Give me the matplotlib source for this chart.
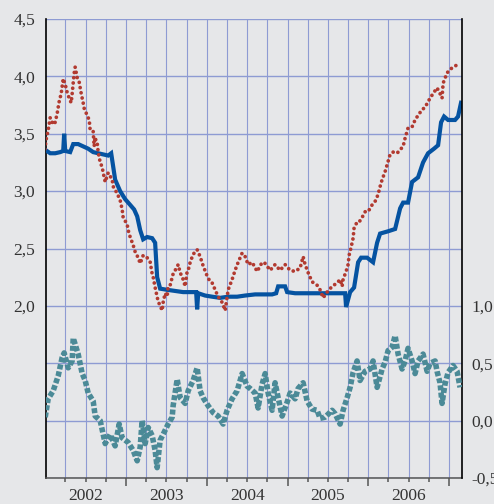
import numpy as np
import matplotlib.pyplot as plt
from matplotlib.ticker import FixedLocator

plt.rcParams['font.family'] = ['Liberation Serif', 'DejaVu Serif']

# short rate (solid blue, left axis)
blue_t = [2002.000, 2002.062, 2002.124, 2002.186, 2002.223, 2002.235, 2002.248, 2002.309,
          2002.347, 2002.408, 2002.470, 2002.532, 2002.594, 2002.656, 2002.718, 2002.780,
          2002.817, 2002.866, 2002.928, 2002.990, 2003.052, 2003.101, 2003.139, 2003.176,
          2003.213, 2003.262, 2003.324, 2003.361, 2003.386, 2003.423, 2003.510, 2003.609,
          2003.708, 2003.795, 2003.869, 2003.881, 2003.894, 2003.980, 2004.067, 2004.166,
          2004.265, 2004.376, 2004.475, 2004.599, 2004.723, 2004.809, 2004.859, 2004.884,
          2004.970, 2004.995, 2005.094, 2005.218, 2005.342, 2005.465, 2005.589, 2005.713,
          2005.725, 2005.775, 2005.824, 2005.874, 2005.911, 2005.985, 2006.059, 2006.109,
          2006.146, 2006.245, 2006.332, 2006.394, 2006.431, 2006.492, 2006.542, 2006.616,
          2006.678, 2006.740, 2006.814, 2006.864, 2006.901, 2006.938, 2006.988, 2007.074,
          2007.111, 2007.148]
blue_v = [3.36, 3.33, 3.33, 3.34, 3.35, 3.50, 3.35, 3.34,
          3.41, 3.41, 3.39, 3.37, 3.34, 3.33, 3.32, 3.31,
          3.33, 3.10, 3.00, 2.93, 2.88, 2.84, 2.78, 2.66,
          2.58, 2.60, 2.59, 2.55, 2.25, 2.15, 2.14, 2.13,
          2.12, 2.12, 2.12, 1.97, 2.11, 2.09, 2.08, 2.07,
          2.08, 2.08, 2.09, 2.10, 2.10, 2.10, 2.11, 2.17,
          2.17, 2.12, 2.11, 2.11, 2.11, 2.11, 2.11, 2.11,
          1.99, 2.12, 2.16, 2.38, 2.42, 2.42, 2.38, 2.55,
          2.63, 2.65, 2.67, 2.85, 2.90, 2.90, 3.08, 3.12,
          3.25, 3.33, 3.37, 3.40, 3.60, 3.65, 3.62, 3.62,
          3.65, 3.77]

# longer rate (red dots, left axis)
red_t = [2001.988, 2002.012, 2002.037, 2002.062, 2002.099, 2002.124, 2002.149, 2002.173,
         2002.198, 2002.223, 2002.248, 2002.272, 2002.297, 2002.322, 2002.334, 2002.359,
         2002.371, 2002.396, 2002.421, 2002.446, 2002.470, 2002.483, 2002.520, 2002.545,
         2002.557, 2002.594, 2002.606, 2002.619, 2002.631, 2002.644, 2002.656, 2002.681,
         2002.705, 2002.718, 2002.743, 2002.780, 2002.829, 2002.842, 2002.891, 2002.928,
         2002.953, 2002.965, 2003.015, 2003.027, 2003.052, 2003.089, 2003.114, 2003.151,
         2003.176, 2003.213, 2003.262, 2003.300, 2003.324, 2003.337, 2003.361, 2003.398,
         2003.448, 2003.460, 2003.485, 2003.510, 2003.522, 2003.547, 2003.572, 2003.584,
         2003.634, 2003.646, 2003.671, 2003.696, 2003.708, 2003.733, 2003.757, 2003.770,
         2003.795, 2003.832, 2003.881, 2003.918, 2003.955, 2004.005, 2004.042, 2004.067,
         2004.104, 2004.141, 2004.191, 2004.228, 2004.265, 2004.314, 2004.351, 2004.389,
         2004.438, 2004.475, 2004.512, 2004.562, 2004.624, 2004.686, 2004.723, 2004.785,
         2004.846, 2004.908, 2004.970, 2005.032, 2005.094, 2005.156, 2005.193, 2005.218,
         2005.255, 2005.304, 2005.366, 2005.403, 2005.441, 2005.490, 2005.552, 2005.614,
         2005.651, 2005.676, 2005.688, 2005.725, 2005.750, 2005.762, 2005.787, 2005.812,
         2005.824, 2005.861, 2005.886, 2005.923, 2005.960, 2005.997, 2006.047, 2006.084,
         2006.121, 2006.146, 2006.171, 2006.208, 2006.233, 2006.270, 2006.307, 2006.356,
         2006.394, 2006.431, 2006.455, 2006.492, 2006.542, 2006.579, 2006.616, 2006.666,
         2006.703, 2006.740, 2006.765, 2006.802, 2006.851, 2006.888, 2006.913, 2006.926,
         2006.975, 2007.012, 2007.049, 2007.099, 2007.136]
red_v = [3.32, 3.45, 3.53, 3.64, 3.58, 3.60, 3.68, 3.78,
         3.85, 3.98, 3.93, 3.86, 3.81, 3.77, 3.85, 4.03,
         4.08, 3.99, 3.95, 3.85, 3.77, 3.72, 3.66, 3.62,
         3.53, 3.52, 3.39, 3.47, 3.43, 3.42, 3.34, 3.25,
         3.21, 3.16, 3.08, 3.16, 3.10, 3.04, 2.98, 2.92,
         2.84, 2.77, 2.71, 2.66, 2.60, 2.53, 2.47, 2.42,
         2.37, 2.44, 2.42, 2.38, 2.28, 2.25, 2.16, 2.04,
         1.96, 2.03, 2.11, 2.08, 2.17, 2.18, 2.25, 2.28,
         2.34, 2.36, 2.29, 2.25, 2.23, 2.17, 2.30, 2.31,
         2.38, 2.45, 2.49, 2.43, 2.35, 2.26, 2.21, 2.20,
         2.14, 2.08, 2.03, 1.96, 2.14, 2.23, 2.31, 2.38,
         2.46, 2.43, 2.36, 2.38, 2.30, 2.38, 2.37, 2.31,
         2.36, 2.31, 2.36, 2.31, 2.30, 2.33, 2.43, 2.36,
         2.29, 2.21, 2.18, 2.14, 2.07, 2.12, 2.17, 2.20,
         2.23, 2.17, 2.23, 2.30, 2.36, 2.44, 2.51, 2.59,
         2.68, 2.73, 2.73, 2.77, 2.82, 2.82, 2.88, 2.91,
         2.97, 3.04, 3.10, 3.17, 3.23, 3.32, 3.34, 3.33,
         3.36, 3.39, 3.46, 3.55, 3.56, 3.62, 3.66, 3.71,
         3.73, 3.78, 3.81, 3.85, 3.90, 3.85, 3.81, 3.94,
         4.03, 4.06, 4.08, 4.10, 4.08]

# spread (teal dashes, right axis)
spread_t = [2002.000, 2002.037, 2002.099, 2002.161, 2002.210, 2002.235, 2002.285, 2002.334,
            2002.347, 2002.408, 2002.458, 2002.495, 2002.532, 2002.594, 2002.619, 2002.681,
            2002.718, 2002.743, 2002.804, 2002.866, 2002.916, 2002.953, 2003.027, 2003.089,
            2003.139, 2003.176, 2003.200, 2003.238, 2003.275, 2003.324, 2003.361, 2003.386,
            2003.423, 2003.460, 2003.522, 2003.572, 2003.584, 2003.634, 2003.671, 2003.733,
            2003.770, 2003.832, 2003.881, 2003.918, 2003.955, 2004.017, 2004.079, 2004.141,
            2004.203, 2004.252, 2004.314, 2004.376, 2004.438, 2004.500, 2004.537, 2004.599,
            2004.636, 2004.686, 2004.723, 2004.760, 2004.809, 2004.846, 2004.884, 2004.933,
            2004.995, 2005.032, 2005.094, 2005.131, 2005.193, 2005.243, 2005.304, 2005.366,
            2005.403, 2005.465, 2005.552, 2005.589, 2005.651, 2005.688, 2005.738, 2005.775,
            2005.812, 2005.861, 2005.898, 2005.960, 2006.022, 2006.059, 2006.109, 2006.171,
            2006.208, 2006.245, 2006.294, 2006.332, 2006.369, 2006.418, 2006.455, 2006.492,
            2006.542, 2006.579, 2006.616, 2006.678, 2006.728, 2006.765, 2006.827, 2006.851,
            2006.888, 2006.913, 2006.950, 2006.988, 2007.049, 2007.099, 2007.136]
spread_v = [0.03, 0.19, 0.26, 0.39, 0.55, 0.59, 0.46, 0.52,
            0.72, 0.58, 0.41, 0.35, 0.24, 0.17, 0.04, 0.00,
            -0.12, -0.20, -0.12, -0.22, -0.03, -0.15, -0.19, -0.26,
            -0.35, -0.23, 0.00, -0.20, -0.06, -0.13, -0.26, -0.41,
            -0.17, -0.12, -0.03, 0.03, 0.13, 0.36, 0.20, 0.15,
            0.26, 0.35, 0.46, 0.26, 0.20, 0.13, 0.07, 0.04,
            -0.03, 0.09, 0.19, 0.26, 0.41, 0.30, 0.28, 0.24,
            0.11, 0.32, 0.41, 0.24, 0.09, 0.33, 0.20, 0.04,
            0.16, 0.24, 0.19, 0.28, 0.33, 0.17, 0.10, 0.09,
            0.02, 0.03, 0.09, 0.06, -0.03, 0.09, 0.20, 0.29,
            0.42, 0.52, 0.35, 0.43, 0.45, 0.52, 0.29, 0.45,
            0.51, 0.61, 0.64, 0.74, 0.58, 0.45, 0.52, 0.63,
            0.52, 0.41, 0.52, 0.58, 0.43, 0.50, 0.52, 0.43,
            0.33, 0.15, 0.32, 0.42, 0.48, 0.43, 0.29]

years = [2002, 2003, 2004, 2005, 2006]

bg = '#e6e7e9'
grid_c = '#8e9bd3'

fig = plt.figure(figsize=(4.94, 5.04), dpi=100, facecolor=bg)
ax = fig.add_axes([46 / 494, 1 - 478 / 504, 416 / 494, 459 / 504])
ax.set_facecolor(bg)
ax2 = ax.twinx()

ax.plot(blue_t, blue_v, color='#0553a1', lw=3.0, solid_joinstyle='miter', zorder=3)
ax.plot(red_t, red_v, color='#b23a30', lw=2.7, linestyle=(0, (0.01, 1.4)),
        dash_capstyle='round', zorder=4)
ax2.plot(spread_t, spread_v, color='#4b8a97', lw=4.0, linestyle=(0, (0.9, 0.4)),
         solid_joinstyle='miter', zorder=3)

ax.set_xlim(2002.01, 2007.16)
ax.set_ylim(0.5, 4.5)
ax2.set_ylim(-0.5, 3.5)

# left axis: grid every 0.5, labels only from 2,0 up
lt = np.arange(0.5, 4.51, 0.5)
ax.set_yticks(lt)
ax.set_yticklabels(['' if v < 2 else f'{v:.1f}'.replace('.', ',') for v in lt])
rt = [-0.5, 0.0, 0.5, 1.0]
ax2.set_yticks(rt)
ax2.set_yticklabels([f'{v:.1f}'.replace('.', ',') for v in rt])
ax.tick_params(axis='y', length=0, pad=8, labelsize=12.5, labelcolor='#333333')
ax2.tick_params(axis='y', length=0, pad=7, labelsize=12.5, labelcolor='#333333')

ax.xaxis.set_major_locator(FixedLocator([2002, 2003, 2004, 2005, 2006, 2007]))
ax.xaxis.set_minor_locator(FixedLocator(np.arange(2002, 2007.2, 0.25)))
ax.set_xticklabels([])
ax.tick_params(axis='x', which='major', length=6, width=1.1, color='#555555', direction='out')
ax.tick_params(axis='x', which='minor', length=3, width=1.1, color='#555555', direction='out')
for y in years:
    ax.text(y + 0.5, -0.022, str(y), transform=ax.get_xaxis_transform(),
            ha='center', va='top', fontsize=12.5, color='#333333')

ax.grid(True, axis='y', color=grid_c, lw=1.0, zorder=0)
ax.grid(True, axis='x', which='both', color=grid_c, lw=0.8, zorder=0)
ax.set_axisbelow(True)

for s in ['top', 'right']:
    ax.spines[s].set_visible(False)
for s in ['top', 'bottom', 'left']:
    ax2.spines[s].set_visible(False)
ax.spines['left'].set_color('black')
ax.spines['left'].set_linewidth(1.2)
ax.spines['bottom'].set_color('#555555')
ax.spines['bottom'].set_linewidth(1.1)
ax2.spines['right'].set_color('black')
ax2.spines['right'].set_linewidth(1.2)

fig.savefig('out.png', dpi=100, facecolor=bg)
